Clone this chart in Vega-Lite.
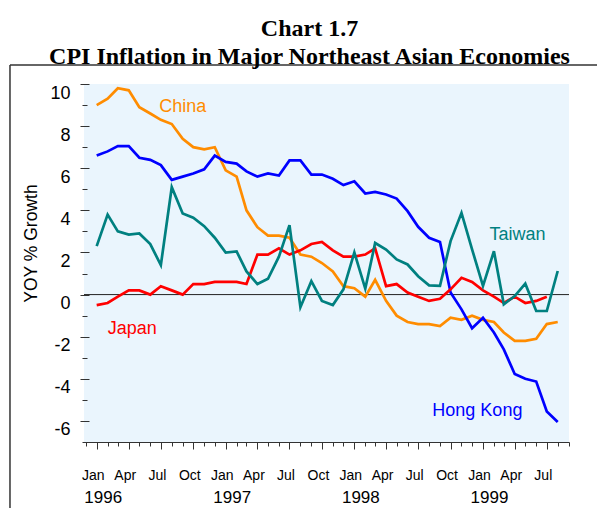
{
  "$schema": "https://vega.github.io/schema/vega-lite/v6.json",
  "width": 485,
  "height": 358,
  "autosize": {"type": "none"},
  "padding": {"left": 84, "top": 84, "right": 28, "bottom": 66},
  "background": "white",
  "config": {
    "font": "Liberation Sans",
    "view": {"fill": "#eaf5fd", "stroke": null},
    "axis": {"grid": false, "labelColor": "#000", "tickColor": "#333", "domainColor": "#333", "titleColor": "#000"}
  },
  "title": {
    "text": ["Chart 1.7", "CPI Inflation in Major Northeast Asian Economies"],
    "font": "Liberation Serif",
    "fontSize": 24,
    "fontWeight": "bold",
    "color": "#000",
    "anchor": "middle",
    "frame": "group",
    "dx": -17,
    "offset": -5,
    "lineHeight": 28
  },
  "datasets": {
    "cpi": [
      {"date": "1996-01-01", "China": 9.0, "Japan": -0.5, "Taiwan": 2.3, "Hong Kong": 6.6},
      {"date": "1996-02-01", "China": 9.3, "Japan": -0.4, "Taiwan": 3.8, "Hong Kong": 6.8},
      {"date": "1996-03-01", "China": 9.8, "Japan": -0.1, "Taiwan": 3.0, "Hong Kong": 7.05},
      {"date": "1996-04-01", "China": 9.7, "Japan": 0.2, "Taiwan": 2.85, "Hong Kong": 7.05},
      {"date": "1996-05-01", "China": 8.9, "Japan": 0.2, "Taiwan": 2.9, "Hong Kong": 6.5},
      {"date": "1996-06-01", "China": 8.6, "Japan": 0.0, "Taiwan": 2.4, "Hong Kong": 6.4},
      {"date": "1996-07-01", "China": 8.3, "Japan": 0.4, "Taiwan": 1.4, "Hong Kong": 6.15},
      {"date": "1996-08-01", "China": 8.1, "Japan": 0.2, "Taiwan": 5.1, "Hong Kong": 5.45},
      {"date": "1996-09-01", "China": 7.4, "Japan": 0.0, "Taiwan": 3.85, "Hong Kong": 5.6},
      {"date": "1996-10-01", "China": 7.0, "Japan": 0.5, "Taiwan": 3.65, "Hong Kong": 5.75},
      {"date": "1996-11-01", "China": 6.9, "Japan": 0.5, "Taiwan": 3.25, "Hong Kong": 5.95},
      {"date": "1996-12-01", "China": 7.0, "Japan": 0.6, "Taiwan": 2.7, "Hong Kong": 6.6},
      {"date": "1997-01-01", "China": 5.9, "Japan": 0.6, "Taiwan": 2.0, "Hong Kong": 6.3},
      {"date": "1997-02-01", "China": 5.6, "Japan": 0.6, "Taiwan": 2.05, "Hong Kong": 6.22},
      {"date": "1997-03-01", "China": 4.0, "Japan": 0.5, "Taiwan": 1.1, "Hong Kong": 5.85},
      {"date": "1997-04-01", "China": 3.2, "Japan": 1.9, "Taiwan": 0.5, "Hong Kong": 5.6},
      {"date": "1997-05-01", "China": 2.8, "Japan": 1.9, "Taiwan": 0.75, "Hong Kong": 5.75},
      {"date": "1997-06-01", "China": 2.8, "Japan": 2.2, "Taiwan": 1.8, "Hong Kong": 5.65},
      {"date": "1997-07-01", "China": 2.7, "Japan": 1.9, "Taiwan": 3.3, "Hong Kong": 6.37},
      {"date": "1997-08-01", "China": 1.9, "Japan": 2.1, "Taiwan": -0.6, "Hong Kong": 6.37},
      {"date": "1997-09-01", "China": 1.8, "Japan": 2.4, "Taiwan": 0.64, "Hong Kong": 5.7},
      {"date": "1997-10-01", "China": 1.5, "Japan": 2.5, "Taiwan": -0.3, "Hong Kong": 5.7},
      {"date": "1997-11-01", "China": 1.1, "Japan": 2.1, "Taiwan": -0.5, "Hong Kong": 5.5},
      {"date": "1997-12-01", "China": 0.4, "Japan": 1.8, "Taiwan": 0.25, "Hong Kong": 5.2},
      {"date": "1998-01-01", "China": 0.3, "Japan": 1.8, "Taiwan": 2.0, "Hong Kong": 5.38},
      {"date": "1998-02-01", "China": -0.1, "Japan": 1.9, "Taiwan": 0.28, "Hong Kong": 4.8},
      {"date": "1998-03-01", "China": 0.7, "Japan": 2.2, "Taiwan": 2.45, "Hong Kong": 4.88},
      {"date": "1998-04-01", "China": -0.3, "Japan": 0.4, "Taiwan": 2.14, "Hong Kong": 4.75},
      {"date": "1998-05-01", "China": -1.0, "Japan": 0.5, "Taiwan": 1.67, "Hong Kong": 4.56},
      {"date": "1998-06-01", "China": -1.3, "Japan": 0.1, "Taiwan": 1.43, "Hong Kong": 3.96},
      {"date": "1998-07-01", "China": -1.4, "Japan": -0.1, "Taiwan": 0.87, "Hong Kong": 3.22},
      {"date": "1998-08-01", "China": -1.4, "Japan": -0.3, "Taiwan": 0.44, "Hong Kong": 2.7},
      {"date": "1998-09-01", "China": -1.5, "Japan": -0.2, "Taiwan": 0.42, "Hong Kong": 2.5},
      {"date": "1998-10-01", "China": -1.1, "Japan": 0.25, "Taiwan": 2.54, "Hong Kong": 0.1},
      {"date": "1998-11-01", "China": -1.2, "Japan": 0.8, "Taiwan": 3.88, "Hong Kong": -0.7},
      {"date": "1998-12-01", "China": -1.0, "Japan": 0.6, "Taiwan": 2.15, "Hong Kong": -1.6},
      {"date": "1999-01-01", "China": -1.2, "Japan": 0.2, "Taiwan": 0.41, "Hong Kong": -1.1},
      {"date": "1999-02-01", "China": -1.3, "Japan": -0.1, "Taiwan": 2.06, "Hong Kong": -1.8},
      {"date": "1999-03-01", "China": -1.8, "Japan": -0.4, "Taiwan": -0.46, "Hong Kong": -2.6},
      {"date": "1999-04-01", "China": -2.2, "Japan": -0.1, "Taiwan": -0.07, "Hong Kong": -3.77},
      {"date": "1999-05-01", "China": -2.2, "Japan": -0.4, "Taiwan": 0.52, "Hong Kong": -4.0},
      {"date": "1999-06-01", "China": -2.1, "Japan": -0.3, "Taiwan": -0.78, "Hong Kong": -4.13},
      {"date": "1999-07-01", "China": -1.4, "Japan": -0.1, "Taiwan": -0.78, "Hong Kong": -5.55},
      {"date": "1999-08-01", "China": -1.3, "Japan": null, "Taiwan": 1.12, "Hong Kong": -6.05}
    ],
    "labels": [
      {"series": "China", "date": "1996-09-01", "value": 8.9},
      {"series": "Japan", "date": "1996-04-11", "value": -1.63},
      {"series": "Taiwan", "date": "1999-04-09", "value": 2.81},
      {"series": "Hong Kong", "date": "1998-12-16", "value": -5.55}
    ]
  },
  "resolve": {"axis": {"x": "independent", "y": "independent"}},
  "layer": [
    {
      "data": {"values": [{}]},
      "mark": {"type": "rule", "color": "#333", "strokeWidth": 1.5},
      "encoding": {
        "x": {"datum": {"year": 1995, "month": 4, "date": 30, "utc": true}, "type": "temporal", "axis": null,
              "scale": {"type": "utc", "domain": [{"year": 1995, "month": 11, "date": 26, "utc": true}, {"year": 1999, "month": 9, "date": 2, "utc": true}]}},
        "x2": {"datum": {"year": 2000, "month": 6, "date": 1, "utc": true}},
        "y": {"datum": 10.9, "type": "quantitative", "axis": null, "scale": {"domain": [-7, 10], "nice": false, "zero": false}}
      }
    },
    {
      "data": {"values": [{}]},
      "mark": {"type": "rule", "color": "#333", "strokeWidth": 1.5},
      "encoding": {
        "x": {"datum": {"year": 1995, "month": 4, "date": 30, "utc": true}, "type": "temporal", "axis": null},
        "y": {"datum": 10.9, "type": "quantitative", "axis": null},
        "y2": {"datum": -11}
      }
    },
    {
      "data": {"values": [{}]},
      "mark": {"type": "rule", "color": "#222", "strokeWidth": 1},
      "encoding": {
        "y": {"datum": 0, "type": "quantitative", "axis": null}
      }
    },
    {
      "data": {"name": "cpi"},
      "transform": [{"fold": ["China", "Hong Kong", "Japan", "Taiwan"], "as": ["series", "value"]}],
      "mark": {"type": "line", "strokeWidth": 2.7},
      "encoding": {
        "x": {"field": "date", "type": "temporal",
              "scale": {"type": "utc", "domain": [{"year": 1995, "month": 11, "date": 26, "utc": true}, {"year": 1999, "month": 9, "date": 2, "utc": true}]},
              "axis": {"orient": "bottom", "title": null, "tickCount": {"interval": "month", "step": 3}, "tickSize": 7, "domain": false,
                       "labelExpr": "utcFormat(datum.value, '%b')", "labelFontSize": 14, "labelPadding": 19, "labelOffset": -4,
                       "labelFlush": false, "labelOverlap": false, "labelBound": false}},
        "y": {"field": "value", "type": "quantitative",
              "scale": {"domain": [-7, 10], "nice": false, "zero": false},
              "axis": {"orient": "left", "values": [-6, -4, -2, 0, 2, 4, 6, 8, 10], "tickSize": 9, "offset": -5, "domain": false,
                       "labelExpr": "'' + datum.value", "labelFontSize": 18, "labelPadding": 10, "labelBaseline": "top",
                       "title": "YOY % Growth", "titleFontSize": 17.5, "titleFontWeight": "normal", "titlePadding": 9, "titleY": 159}},
        "color": {"field": "series", "type": "nominal", "legend": null,
                  "scale": {"domain": ["China", "Japan", "Taiwan", "Hong Kong"], "range": ["#ff8c00", "#ff0000", "#008080", "#0000ff"]}},
        "detail": {"field": "series"}
      }
    },
    {
      "data": {"name": "cpi"},
      "transform": [{"fold": ["China", "Hong Kong", "Japan", "Taiwan"], "as": ["series", "value"]}],
      "mark": {"type": "point", "opacity": 0},
      "encoding": {
        "x": {"field": "date", "type": "temporal",
              "axis": {"orient": "bottom", "title": null, "tickCount": {"interval": "month", "step": 1}, "tickSize": 4, "labels": false,
                       "domain": true, "domainWidth": 1.2}},
        "y": {"field": "value", "type": "quantitative",
              "axis": {"orient": "left", "values": [-7, -5, -3, -1, 1, 3, 5, 7, 9], "tickSize": 5, "offset": -3, "labels": false,
                       "domain": false, "title": null}}
      }
    },
    {
      "data": {"name": "labels"},
      "mark": {"type": "text", "fontSize": 18, "align": "center", "baseline": "middle"},
      "encoding": {
        "x": {"field": "date", "type": "temporal",
              "axis": {"orient": "bottom", "title": null, "tickCount": {"interval": "year", "step": 1}, "ticks": false, "tickSize": 0,
                       "domain": false, "labelExpr": "utcFormat(datum.value, '%Y')", "labelFontSize": 17, "labelPadding": 47,
                       "labelOffset": 6, "labelFlush": false, "labelOverlap": false, "labelBound": false}},
        "y": {"field": "value", "type": "quantitative", "axis": null},
        "color": {"field": "series", "type": "nominal", "legend": null},
        "text": {"field": "series"}
      }
    }
  ]
}
